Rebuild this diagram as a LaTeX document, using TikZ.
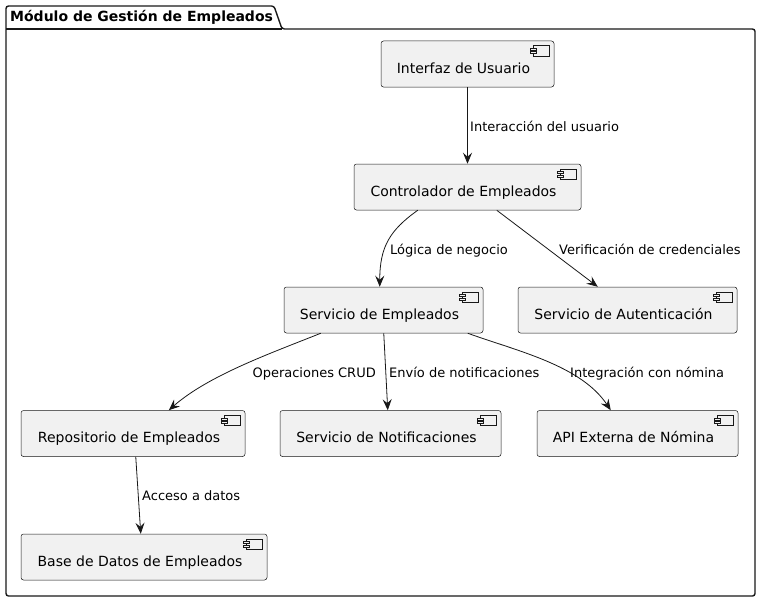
\documentclass[tikz,border=0pt]{standalone}
\usepackage{fontspec}
\setmainfont{DejaVu Sans}
\usepackage{tikz}
\usetikzlibrary{arrows.meta,positioning}

\definecolor{boxfill}{HTML}{F1F1F1}
\definecolor{ink}{HTML}{181818}

\begin{document}
\begin{tikzpicture}[x=1pt,y=-1pt]
	\begin{scope}

\tikzset{comp/.style={draw=ink,fill=boxfill,line width=0.5pt,rounded corners=2.5pt,
	minimum height=46pt,inner xsep=0pt,inner ysep=0pt,text height=32pt,text depth=14pt,
	font=\fontsize{14}{16}\selectfont},
	lbl/.style={inner sep=0pt,anchor=base west,font=\fontsize{13}{15}\selectfont},
	link/.style={draw=ink,line width=0.8pt,-{Stealth[length=11pt,width=9pt,inset=4pt]}}}

\useasboundingbox (0,0) rectangle (759,602);

% the package frame
\draw[ink,line width=1.4pt,rounded corners=2.5pt] (6,596) -- (6,6) -- (274,6) -- (282,29) -- (755,29) -- (755,596) -- cycle;
\draw[ink,line width=1.4pt] (6,29) -- (282,29);
\node(title)[inner sep=0pt,anchor=base west,font=\fontsize{14}{16}\selectfont\bfseries] at (10,22){Módulo de Gestión de Empleados};

% components
\node(ui)[comp,minimum width=173pt] at (467.5,64){Interfaz de Usuario\hspace*{8pt}};
\node(ctrl)[comp,minimum width=227pt] at (467.5,187){Controlador de Empleados\hspace*{8pt}};
\node(serv)[comp,minimum width=199pt] at (383.5,310){Servicio de Empleados\hspace*{8pt}};
\node(auth)[comp,minimum width=219pt] at (627.5,310){Servicio de Autenticación\hspace*{8pt}};
\node(repo)[comp,minimum width=224pt] at (133,433.5){Repositorio de Empleados\hspace*{8pt}};
\node(notif)[comp,minimum width=221pt] at (390.5,433.5){Servicio de Notificaciones\hspace*{8pt}};
\node(api)[comp,minimum width=201pt] at (637.5,433.5){API Externa de Nómina\hspace*{8pt}};
\node(db)[comp,minimum width=246pt] at (144,557){Base de Datos de Empleados\hspace*{8pt}};

% component icons
\foreach \n in {ui,ctrl,serv,auth,repo,notif,api,db}
{
\draw[ink,fill=boxfill,line width=0.5pt] ([shift={(-21,5)}]\n.north east) rectangle ([shift={(-5,15)}]\n.north east);
\draw[ink,fill=boxfill,line width=0.5pt] ([shift={(-24,7.5)}]\n.north east) rectangle ([shift={(-18,9.5)}]\n.north east);
\draw[ink,fill=boxfill,line width=0.5pt] ([shift={(-24,11)}]\n.north east) rectangle ([shift={(-18,13)}]\n.north east);
}

% the links
\draw[link] (ui.south) -- (ctrl.north);
\draw[link] ([xshift=64pt]ctrl.south west) .. controls +(-28,20) and +(0,-40) .. ([xshift=96pt]serv.north west);
\draw[link] ([xshift=143pt]ctrl.south west) -- ([xshift=80pt]auth.north west);
\draw[link] ([xshift=37pt]serv.south west) .. controls +(-50,20) and +(40,-35) .. ([xshift=148pt]repo.north west);
\draw[link] ([xshift=100pt]serv.south west) -- ([xshift=108pt]notif.north west);
\draw[link] ([xshift=184pt]serv.south west) .. controls +(50,18) and +(-30,-45) .. ([xshift=74pt]api.north west);
\draw[link] ([xshift=115pt]repo.south west) -- ([xshift=120pt]db.north west);

% their labels
\node(l1)[lbl] at (470,131){Interacción del usuario};
\node(l2)[lbl] at (390,254){Lógica de negocio};
\node(l3)[lbl] at (559,254){Verificación de credenciales};
\node(l4)[lbl,anchor=base east] at (376,377){Operaciones CRUD};
\node(l5)[lbl] at (389,377){Envío de notificaciones};
\node(l6)[lbl] at (570,377){Integración con nómina};
\node(l7)[lbl] at (142,500){Acceso a datos};

	\end{scope}
\end{tikzpicture}
\end{document}
